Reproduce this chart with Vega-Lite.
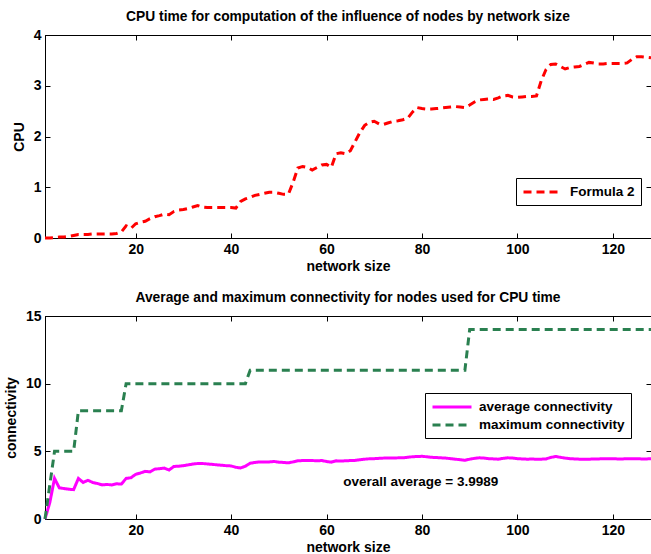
{
  "$schema": "https://vega.github.io/schema/vega-lite/v6.json",
  "background": "white",
  "padding": {"left": 3, "top": 9, "right": 0, "bottom": 0},
  "config": {
    "font": "Liberation Sans",
    "view": {"stroke": "black", "strokeWidth": 1},
    "axis": {
      "labelFont": "Liberation Sans", "labelFontWeight": "bold", "labelFontSize": 14, "labelColor": "black",
      "titleFont": "Liberation Sans", "titleFontWeight": "bold", "titleFontSize": 14, "titleColor": "black",
      "domainColor": "black", "tickColor": "black", "grid": false, "tickSize": -5, "labelPadding": 9, "titlePadding": 3
    },
    "title": {"font": "Liberation Sans", "fontWeight": "bold", "fontSize": 13.8, "color": "black", "anchor": "middle", "offset": 4},
    "legend": {
      "orient": "none", "strokeColor": "black", "fillColor": "white", "padding": 6, "cornerRadius": 0,
      "labelFont": "Liberation Sans", "labelFontWeight": "bold", "labelFontSize": 13.5, "labelColor": "black",
      "symbolType": "M-1,0H5", "symbolStrokeWidth": 3, "symbolSize": 169, "labelOffset": 32, "labelLimit": 400, "rowPadding": 3, "title": null
    },
    "concat": {"spacing": 16}
  },
  "resolve": {"scale": {"color": "independent", "strokeDash": "independent"}, "legend": {"color": "independent", "strokeDash": "independent"}},
  "datasets": {
    "cpu": [
      {"n":1,"cpu":0,"series":"Formula 2"},{"n":2,"cpu":0,"series":"Formula 2"},{"n":3,"cpu":0.01,"series":"Formula 2"},{"n":4,"cpu":0.02,"series":"Formula 2"},{"n":5,"cpu":0.02,"series":"Formula 2"},{"n":6,"cpu":0.03,"series":"Formula 2"},{"n":7,"cpu":0.05,"series":"Formula 2"},{"n":8,"cpu":0.07,"series":"Formula 2"},{"n":9,"cpu":0.07,"series":"Formula 2"},{"n":10,"cpu":0.07,"series":"Formula 2"},
      {"n":11,"cpu":0.08,"series":"Formula 2"},{"n":12,"cpu":0.08,"series":"Formula 2"},{"n":13,"cpu":0.08,"series":"Formula 2"},{"n":14,"cpu":0.08,"series":"Formula 2"},{"n":15,"cpu":0.08,"series":"Formula 2"},{"n":16,"cpu":0.09,"series":"Formula 2"},{"n":17,"cpu":0.12,"series":"Formula 2"},{"n":18,"cpu":0.24,"series":"Formula 2"},{"n":19,"cpu":0.19,"series":"Formula 2"},{"n":20,"cpu":0.28,"series":"Formula 2"},
      {"n":21,"cpu":0.31,"series":"Formula 2"},{"n":22,"cpu":0.33,"series":"Formula 2"},{"n":23,"cpu":0.38,"series":"Formula 2"},{"n":24,"cpu":0.42,"series":"Formula 2"},{"n":25,"cpu":0.44,"series":"Formula 2"},{"n":26,"cpu":0.47,"series":"Formula 2"},{"n":27,"cpu":0.46,"series":"Formula 2"},{"n":28,"cpu":0.52,"series":"Formula 2"},{"n":29,"cpu":0.55,"series":"Formula 2"},{"n":30,"cpu":0.56,"series":"Formula 2"},
      {"n":31,"cpu":0.58,"series":"Formula 2"},{"n":32,"cpu":0.61,"series":"Formula 2"},{"n":33,"cpu":0.64,"series":"Formula 2"},{"n":34,"cpu":0.61,"series":"Formula 2"},{"n":35,"cpu":0.6,"series":"Formula 2"},{"n":36,"cpu":0.6,"series":"Formula 2"},{"n":37,"cpu":0.6,"series":"Formula 2"},{"n":38,"cpu":0.6,"series":"Formula 2"},{"n":39,"cpu":0.6,"series":"Formula 2"},{"n":40,"cpu":0.6,"series":"Formula 2"},
      {"n":41,"cpu":0.59,"series":"Formula 2"},{"n":42,"cpu":0.72,"series":"Formula 2"},{"n":43,"cpu":0.77,"series":"Formula 2"},{"n":44,"cpu":0.8,"series":"Formula 2"},{"n":45,"cpu":0.84,"series":"Formula 2"},{"n":46,"cpu":0.86,"series":"Formula 2"},{"n":47,"cpu":0.88,"series":"Formula 2"},{"n":48,"cpu":0.9,"series":"Formula 2"},{"n":49,"cpu":0.9,"series":"Formula 2"},{"n":50,"cpu":0.88,"series":"Formula 2"},
      {"n":51,"cpu":0.86,"series":"Formula 2"},{"n":52,"cpu":0.86,"series":"Formula 2"},{"n":53,"cpu":1.1,"series":"Formula 2"},{"n":54,"cpu":1.38,"series":"Formula 2"},{"n":55,"cpu":1.41,"series":"Formula 2"},{"n":56,"cpu":1.39,"series":"Formula 2"},{"n":57,"cpu":1.34,"series":"Formula 2"},{"n":58,"cpu":1.39,"series":"Formula 2"},{"n":59,"cpu":1.44,"series":"Formula 2"},{"n":60,"cpu":1.45,"series":"Formula 2"},
      {"n":61,"cpu":1.39,"series":"Formula 2"},{"n":62,"cpu":1.66,"series":"Formula 2"},{"n":63,"cpu":1.68,"series":"Formula 2"},{"n":64,"cpu":1.66,"series":"Formula 2"},{"n":65,"cpu":1.72,"series":"Formula 2"},{"n":66,"cpu":1.9,"series":"Formula 2"},{"n":67,"cpu":2.08,"series":"Formula 2"},{"n":68,"cpu":2.22,"series":"Formula 2"},{"n":69,"cpu":2.28,"series":"Formula 2"},{"n":70,"cpu":2.3,"series":"Formula 2"},
      {"n":71,"cpu":2.25,"series":"Formula 2"},{"n":72,"cpu":2.24,"series":"Formula 2"},{"n":73,"cpu":2.27,"series":"Formula 2"},{"n":74,"cpu":2.3,"series":"Formula 2"},{"n":75,"cpu":2.31,"series":"Formula 2"},{"n":76,"cpu":2.33,"series":"Formula 2"},{"n":77,"cpu":2.36,"series":"Formula 2"},{"n":78,"cpu":2.48,"series":"Formula 2"},{"n":79,"cpu":2.57,"series":"Formula 2"},{"n":80,"cpu":2.55,"series":"Formula 2"},
      {"n":81,"cpu":2.54,"series":"Formula 2"},{"n":82,"cpu":2.54,"series":"Formula 2"},{"n":83,"cpu":2.55,"series":"Formula 2"},{"n":84,"cpu":2.56,"series":"Formula 2"},{"n":85,"cpu":2.57,"series":"Formula 2"},{"n":86,"cpu":2.58,"series":"Formula 2"},{"n":87,"cpu":2.59,"series":"Formula 2"},{"n":88,"cpu":2.58,"series":"Formula 2"},{"n":89,"cpu":2.57,"series":"Formula 2"},{"n":90,"cpu":2.62,"series":"Formula 2"},
      {"n":91,"cpu":2.68,"series":"Formula 2"},{"n":92,"cpu":2.72,"series":"Formula 2"},{"n":93,"cpu":2.73,"series":"Formula 2"},{"n":94,"cpu":2.74,"series":"Formula 2"},{"n":95,"cpu":2.73,"series":"Formula 2"},{"n":96,"cpu":2.76,"series":"Formula 2"},{"n":97,"cpu":2.8,"series":"Formula 2"},{"n":98,"cpu":2.81,"series":"Formula 2"},{"n":99,"cpu":2.78,"series":"Formula 2"},{"n":100,"cpu":2.77,"series":"Formula 2"},
      {"n":101,"cpu":2.78,"series":"Formula 2"},{"n":102,"cpu":2.79,"series":"Formula 2"},{"n":103,"cpu":2.79,"series":"Formula 2"},{"n":104,"cpu":2.8,"series":"Formula 2"},{"n":105,"cpu":3.1,"series":"Formula 2"},{"n":106,"cpu":3.32,"series":"Formula 2"},{"n":107,"cpu":3.42,"series":"Formula 2"},{"n":108,"cpu":3.43,"series":"Formula 2"},{"n":109,"cpu":3.38,"series":"Formula 2"},{"n":110,"cpu":3.33,"series":"Formula 2"},
      {"n":111,"cpu":3.36,"series":"Formula 2"},{"n":112,"cpu":3.37,"series":"Formula 2"},{"n":113,"cpu":3.38,"series":"Formula 2"},{"n":114,"cpu":3.42,"series":"Formula 2"},{"n":115,"cpu":3.46,"series":"Formula 2"},{"n":116,"cpu":3.45,"series":"Formula 2"},{"n":117,"cpu":3.43,"series":"Formula 2"},{"n":118,"cpu":3.43,"series":"Formula 2"},{"n":119,"cpu":3.44,"series":"Formula 2"},{"n":120,"cpu":3.44,"series":"Formula 2"},
      {"n":121,"cpu":3.44,"series":"Formula 2"},{"n":122,"cpu":3.44,"series":"Formula 2"},{"n":123,"cpu":3.45,"series":"Formula 2"},{"n":124,"cpu":3.52,"series":"Formula 2"},{"n":125,"cpu":3.57,"series":"Formula 2"},{"n":126,"cpu":3.57,"series":"Formula 2"},{"n":127,"cpu":3.56,"series":"Formula 2"},{"n":128,"cpu":3.55,"series":"Formula 2"}
    ],
    "conn": [
      {"n":1,"v":0,"series":"average connectivity"},{"n":2,"v":1.2,"series":"average connectivity"},{"n":3,"v":3.0,"series":"average connectivity"},{"n":4,"v":2.3,"series":"average connectivity"},{"n":5,"v":2.25,"series":"average connectivity"},{"n":6,"v":2.2,"series":"average connectivity"},{"n":7,"v":2.17,"series":"average connectivity"},{"n":8,"v":3.0,"series":"average connectivity"},{"n":9,"v":2.7,"series":"average connectivity"},{"n":10,"v":2.86,"series":"average connectivity"},
      {"n":11,"v":2.7,"series":"average connectivity"},{"n":12,"v":2.62,"series":"average connectivity"},{"n":13,"v":2.52,"series":"average connectivity"},{"n":14,"v":2.55,"series":"average connectivity"},{"n":15,"v":2.52,"series":"average connectivity"},{"n":16,"v":2.6,"series":"average connectivity"},{"n":17,"v":2.58,"series":"average connectivity"},{"n":18,"v":3.0,"series":"average connectivity"},{"n":19,"v":3.05,"series":"average connectivity"},{"n":20,"v":3.3,"series":"average connectivity"},
      {"n":21,"v":3.4,"series":"average connectivity"},{"n":22,"v":3.52,"series":"average connectivity"},{"n":23,"v":3.48,"series":"average connectivity"},{"n":24,"v":3.68,"series":"average connectivity"},{"n":25,"v":3.72,"series":"average connectivity"},{"n":26,"v":3.76,"series":"average connectivity"},{"n":27,"v":3.62,"series":"average connectivity"},{"n":28,"v":3.88,"series":"average connectivity"},{"n":29,"v":3.9,"series":"average connectivity"},{"n":30,"v":3.94,"series":"average connectivity"},
      {"n":31,"v":4.0,"series":"average connectivity"},{"n":32,"v":4.06,"series":"average connectivity"},{"n":33,"v":4.1,"series":"average connectivity"},{"n":34,"v":4.1,"series":"average connectivity"},{"n":35,"v":4.07,"series":"average connectivity"},{"n":36,"v":4.04,"series":"average connectivity"},{"n":37,"v":4.0,"series":"average connectivity"},{"n":38,"v":3.97,"series":"average connectivity"},{"n":39,"v":3.94,"series":"average connectivity"},{"n":40,"v":3.92,"series":"average connectivity"},
      {"n":41,"v":3.82,"series":"average connectivity"},{"n":42,"v":3.77,"series":"average connectivity"},{"n":43,"v":3.9,"series":"average connectivity"},{"n":44,"v":4.12,"series":"average connectivity"},{"n":45,"v":4.18,"series":"average connectivity"},{"n":46,"v":4.22,"series":"average connectivity"},{"n":47,"v":4.22,"series":"average connectivity"},{"n":48,"v":4.22,"series":"average connectivity"},{"n":49,"v":4.25,"series":"average connectivity"},{"n":50,"v":4.2,"series":"average connectivity"},
      {"n":51,"v":4.18,"series":"average connectivity"},{"n":52,"v":4.15,"series":"average connectivity"},{"n":53,"v":4.22,"series":"average connectivity"},{"n":54,"v":4.3,"series":"average connectivity"},{"n":55,"v":4.32,"series":"average connectivity"},{"n":56,"v":4.33,"series":"average connectivity"},{"n":57,"v":4.32,"series":"average connectivity"},{"n":58,"v":4.3,"series":"average connectivity"},{"n":59,"v":4.32,"series":"average connectivity"},{"n":60,"v":4.25,"series":"average connectivity"},
      {"n":61,"v":4.2,"series":"average connectivity"},{"n":62,"v":4.3,"series":"average connectivity"},{"n":63,"v":4.28,"series":"average connectivity"},{"n":64,"v":4.3,"series":"average connectivity"},{"n":65,"v":4.32,"series":"average connectivity"},{"n":66,"v":4.33,"series":"average connectivity"},{"n":67,"v":4.38,"series":"average connectivity"},{"n":68,"v":4.42,"series":"average connectivity"},{"n":69,"v":4.45,"series":"average connectivity"},{"n":70,"v":4.46,"series":"average connectivity"},
      {"n":71,"v":4.48,"series":"average connectivity"},{"n":72,"v":4.5,"series":"average connectivity"},{"n":73,"v":4.5,"series":"average connectivity"},{"n":74,"v":4.5,"series":"average connectivity"},{"n":75,"v":4.52,"series":"average connectivity"},{"n":76,"v":4.52,"series":"average connectivity"},{"n":77,"v":4.56,"series":"average connectivity"},{"n":78,"v":4.6,"series":"average connectivity"},{"n":79,"v":4.62,"series":"average connectivity"},{"n":80,"v":4.63,"series":"average connectivity"},
      {"n":81,"v":4.6,"series":"average connectivity"},{"n":82,"v":4.56,"series":"average connectivity"},{"n":83,"v":4.54,"series":"average connectivity"},{"n":84,"v":4.52,"series":"average connectivity"},{"n":85,"v":4.5,"series":"average connectivity"},{"n":86,"v":4.46,"series":"average connectivity"},{"n":87,"v":4.42,"series":"average connectivity"},{"n":88,"v":4.38,"series":"average connectivity"},{"n":89,"v":4.34,"series":"average connectivity"},{"n":90,"v":4.42,"series":"average connectivity"},
      {"n":91,"v":4.48,"series":"average connectivity"},{"n":92,"v":4.52,"series":"average connectivity"},{"n":93,"v":4.5,"series":"average connectivity"},{"n":94,"v":4.46,"series":"average connectivity"},{"n":95,"v":4.44,"series":"average connectivity"},{"n":96,"v":4.42,"series":"average connectivity"},{"n":97,"v":4.48,"series":"average connectivity"},{"n":98,"v":4.52,"series":"average connectivity"},{"n":99,"v":4.5,"series":"average connectivity"},{"n":100,"v":4.46,"series":"average connectivity"},
      {"n":101,"v":4.44,"series":"average connectivity"},{"n":102,"v":4.42,"series":"average connectivity"},{"n":103,"v":4.43,"series":"average connectivity"},{"n":104,"v":4.42,"series":"average connectivity"},{"n":105,"v":4.42,"series":"average connectivity"},{"n":106,"v":4.44,"series":"average connectivity"},{"n":107,"v":4.55,"series":"average connectivity"},{"n":108,"v":4.62,"series":"average connectivity"},{"n":109,"v":4.56,"series":"average connectivity"},{"n":110,"v":4.5,"series":"average connectivity"},
      {"n":111,"v":4.46,"series":"average connectivity"},{"n":112,"v":4.44,"series":"average connectivity"},{"n":113,"v":4.42,"series":"average connectivity"},{"n":114,"v":4.42,"series":"average connectivity"},{"n":115,"v":4.42,"series":"average connectivity"},{"n":116,"v":4.43,"series":"average connectivity"},{"n":117,"v":4.44,"series":"average connectivity"},{"n":118,"v":4.45,"series":"average connectivity"},{"n":119,"v":4.46,"series":"average connectivity"},{"n":120,"v":4.45,"series":"average connectivity"},
      {"n":121,"v":4.44,"series":"average connectivity"},{"n":122,"v":4.44,"series":"average connectivity"},{"n":123,"v":4.45,"series":"average connectivity"},{"n":124,"v":4.46,"series":"average connectivity"},{"n":125,"v":4.45,"series":"average connectivity"},{"n":126,"v":4.44,"series":"average connectivity"},{"n":127,"v":4.44,"series":"average connectivity"},{"n":128,"v":4.45,"series":"average connectivity"},
      {"n":1,"v":0,"series":"maximum connectivity"},{"n":2,"v":2.5,"series":"maximum connectivity"},{"n":3,"v":5,"series":"maximum connectivity"},{"n":7,"v":5,"series":"maximum connectivity"},{"n":8,"v":8,"series":"maximum connectivity"},{"n":17,"v":8,"series":"maximum connectivity"},{"n":18,"v":10,"series":"maximum connectivity"},{"n":43,"v":10,"series":"maximum connectivity"},{"n":44,"v":11,"series":"maximum connectivity"},{"n":89,"v":11,"series":"maximum connectivity"},{"n":90,"v":14,"series":"maximum connectivity"},{"n":128,"v":14,"series":"maximum connectivity"}
    ],
    "note": [{"x": 63.5, "y": 2.7, "label": "overall average = 3.9989"}]
  },
  "vconcat": [
    {
      "width": 606, "height": 203,
      "title": {"text": "CPU time for computation of the influence of nodes by network size"},
      "layer": [
        {
          "data": {"name": "cpu"},
          "mark": {"type": "line", "strokeWidth": 3},
          "encoding": {
            "x": {"field": "n", "type": "quantitative", "scale": {"domain": [1, 128], "nice": false, "zero": false},
                  "axis": {"orient": "bottom", "values": [20, 40, 60, 80, 100, 120], "title": "network size"}},
            "y": {"field": "cpu", "type": "quantitative", "scale": {"domain": [0, 4], "nice": false},
                  "axis": {"values": [0, 1, 2, 3, 4], "title": "CPU", "titlePadding": 7}},
            "color": {"field": "series", "type": "nominal", "scale": {"domain": ["Formula 2"], "range": ["#ff0000"]},
                      "legend": {"legendX": 471, "legendY": 143}},
            "strokeDash": {"field": "series", "type": "nominal", "scale": {"domain": ["Formula 2"], "range": [[8, 5]]},
                      "legend": {"legendX": 471, "legendY": 143}}
          }
        },
        {
          "data": {"name": "cpu"},
          "mark": {"type": "line", "opacity": 0},
          "encoding": {
            "x": {"field": "n", "type": "quantitative", "scale": {"domain": [1, 128], "nice": false, "zero": false},
                  "axis": {"orient": "top", "values": [20, 40, 60, 80, 100, 120], "labels": false, "title": null}},
            "y": {"field": "cpu", "type": "quantitative", "scale": {"domain": [0, 4], "nice": false},
                  "axis": {"orient": "right", "values": [0, 1, 2, 3, 4], "labels": false, "title": null}}
          }
        }
      ],
      "resolve": {"axis": {"x": "independent", "y": "independent"}}
    },
    {
      "width": 606, "height": 203,
      "title": {"text": "Average and maximum connectivity for nodes used for CPU time"},
      "layer": [
        {
          "data": {"name": "conn"},
          "mark": {"type": "line", "strokeWidth": 3},
          "encoding": {
            "x": {"field": "n", "type": "quantitative", "scale": {"domain": [1, 128], "nice": false, "zero": false},
                  "axis": {"orient": "bottom", "values": [20, 40, 60, 80, 100, 120], "title": "network size"}},
            "y": {"field": "v", "type": "quantitative", "scale": {"domain": [0, 15], "nice": false},
                  "axis": {"values": [0, 5, 10, 15], "title": "connectivity", "titlePadding": 7}},
            "color": {"field": "series", "type": "nominal",
                      "scale": {"domain": ["average connectivity", "maximum connectivity"], "range": ["#ff00ff", "#2a8050"]},
                      "legend": {"legendX": 380, "legendY": 77}},
            "strokeDash": {"field": "series", "type": "nominal",
                      "scale": {"domain": ["average connectivity", "maximum connectivity"], "range": [[1, 0], [8, 5]]},
                      "legend": {"legendX": 380, "legendY": 77}}
          }
        },
        {
          "data": {"name": "note"},
          "mark": {"type": "text", "align": "left", "baseline": "middle", "font": "Liberation Sans", "fontWeight": "bold", "fontSize": 13.5, "color": "black"},
          "encoding": {
            "x": {"field": "x", "type": "quantitative", "scale": {"domain": [1, 128], "nice": false, "zero": false},
                  "axis": {"orient": "top", "values": [20, 40, 60, 80, 100, 120], "labels": false, "title": null}},
            "y": {"field": "y", "type": "quantitative", "scale": {"domain": [0, 15], "nice": false},
                  "axis": {"orient": "right", "values": [0, 5, 10, 15], "labels": false, "title": null}},
            "text": {"field": "label", "type": "nominal"}
          }
        }
      ],
      "resolve": {"axis": {"x": "independent", "y": "independent"}}
    }
  ]
}
